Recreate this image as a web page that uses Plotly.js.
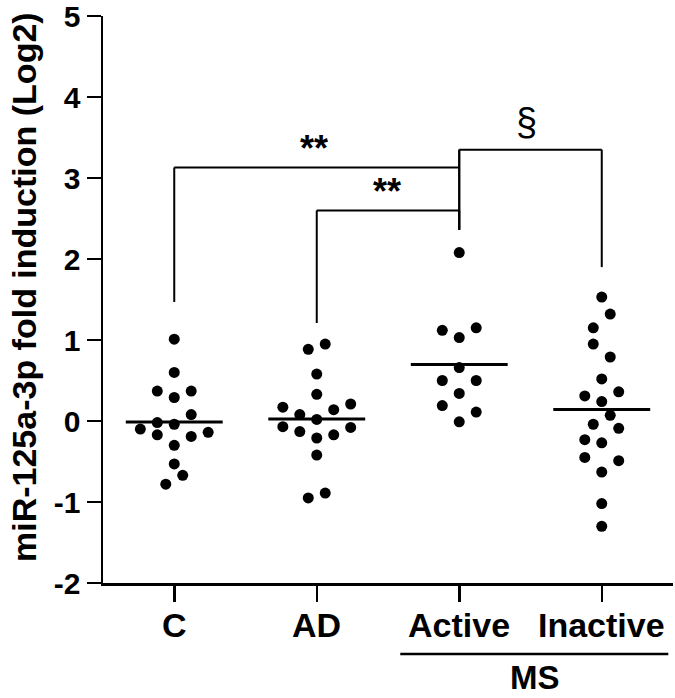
<!DOCTYPE html>
<html>
<head>
<meta charset="utf-8">
<script src="https://cdn.plot.ly/plotly-3.0.1.min.js"></script>
<style>html,body{margin:0;padding:0;background:#fff;}#chart{width:675px;height:698px;}</style>
</head>
<body>
<div id="chart"></div>
<script>
// Categories and tick labels
const categories = ["C", "AD", "Active", "Inactive"];
const groupLabel = "MS";
const yTickVals = [-2, -1, 0, 1, 2, 3, 4, 5];

// Values (log2 fold induction)
const valuesC = [1.01, 0.60, 0.37, 0.29, 0.37, 0.08, -0.02, -0.04, -0.10, -0.17, -0.19, -0.14, -0.30, -0.53, -0.67, -0.78];
const valuesAD = [0.885, 0.95, 0.58, 0.33, 0.17, 0.08, 0.14, 0.21, 0.02, -0.07, -0.13, -0.08, -0.21, -0.17, -0.42, -0.95, -0.89];
const valuesActive = [2.08, 1.12, 1.15, 1.03, 0.66, 0.50, 0.50, 0.34, 0.19, 0.11, -0.01];
const valuesInactive = [1.53, 1.32, 1.15, 0.95, 0.79, 0.52, 0.31, 0.36, 0.24, 0.07, -0.04, -0.09, -0.23, -0.27, -0.45, -0.49, -0.63, -1.02, -1.30];

// Scatter-dot column slots (horizontal spreading of dots, in dot slots)
const slotsC = [0, 0, -1, 0, 1, 1, -1, 0, -2, -1, 1, 2, 0, 0, 0.5, -0.5];
const slotsAD = [-0.5, 0.5, 0, 0, -2, -1, 1, 2, 0, -2, -1, 2, 0, 1, 0, -0.5, 0.5];
const slotsActive = [0, -1, 1, 0, 0, -1, 1, 0, -1, 1, 0];
const slotsInactive = [0, 0.5, -0.5, -0.5, 0.5, 0, -1, 1, 0, 0.5, -0.5, 1, -1, 0, -1, 1, 0, 0, 0];

// Significance brackets
const brackets = [
  {from: 0, to: 2, h: 3.13, leftEnd: 1.47, rightEnd: null, label: "<b>**</b>", lx: 0.98, ly: 3.36, size: 36},
  {from: 1, to: 2, h: 2.60, leftEnd: 1.21, rightEnd: 2.36, label: "<b>**</b>", lx: 1.495, ly: 2.83, size: 36},
  {from: 2, to: 3, h: 3.35, leftEnd: 2.36, rightEnd: 1.90, label: "§", lx: 2.47, ly: 3.69, size: 38}
];

const FONT = 'Arial, Liberation Sans, sans-serif';
const groups = [valuesC, valuesAD, valuesActive, valuesInactive];
const slots = [slotsC, slotsAD, slotsActive, slotsInactive];
const slotWidth = 0.119;
const meanHalf = 0.34;

const traces = [];
groups.forEach((vals, gi) => {
  traces.push({
    type: 'scatter', mode: 'markers',
    x: vals.map((v, i) => gi + slots[gi][i] * slotWidth),
    y: vals,
    marker: {color: '#000', size: 11, line: {width: 0}},
    showlegend: false, hoverinfo: 'y', cliponaxis: false
  });
  const mean = vals.reduce((a, b) => a + b, 0) / vals.length;
  traces.push({
    type: 'scatter', mode: 'lines',
    x: [gi - meanHalf, gi + meanHalf], y: [mean, mean],
    line: {color: '#000', width: 3}, showlegend: false, hoverinfo: 'skip'
  });
});

const shapes = [];
const annotations = [];
const lineStyle = {color: '#000', width: 2};
brackets.forEach(b => {
  shapes.push({type: 'line', xref: 'x', yref: 'y', x0: b.from, x1: b.to, y0: b.h, y1: b.h, line: lineStyle});
  shapes.push({type: 'line', xref: 'x', yref: 'y', x0: b.from, x1: b.from, y0: b.leftEnd, y1: b.h, line: lineStyle});
  if (b.rightEnd !== null) {
    shapes.push({type: 'line', xref: 'x', yref: 'y', x0: b.to, x1: b.to, y0: b.rightEnd, y1: b.h, line: lineStyle});
  }
  annotations.push({xref: 'x', yref: 'y', x: b.lx, y: b.ly, text: b.label, showarrow: false,
    font: {family: FONT, size: b.size, color: '#000'}, xanchor: 'center', yanchor: 'middle'});
});
shapes.push({type: 'line', xref: 'x', yref: 'y', x0: 2, x1: 2, y0: 2.36, y1: 3.35, line: lineStyle});

// Category labels
categories.forEach((c, i) => {
  annotations.push({xref: 'x', yref: 'paper', x: i, y: -0.0741, text: '<b>' + c + '</b>', showarrow: false,
    font: {family: FONT, size: 34, color: '#000'}, xanchor: 'center', yanchor: 'middle'});
});

// MS group underline and label
shapes.push({type: 'line', xref: 'x', yref: 'paper', x0: 1.586, x1: 3.467, y0: -0.1252, y1: -0.1252, line: {color: '#000', width: 2.5}});
annotations.push({xref: 'x', yref: 'paper', x: 2.53, y: -0.1675, text: '<b>' + groupLabel + '</b>', showarrow: false,
  font: {family: FONT, size: 33, color: '#000'}, xanchor: 'center', yanchor: 'middle'});

// Y title
annotations.push({xref: 'paper', yref: 'paper', x: -0.1386, y: 0.522, text: '<b>miR-125a-3p fold induction (Log2)</b>',
  showarrow: false, textangle: -90, xanchor: 'center', yanchor: 'middle',
  font: {family: FONT, size: 34, color: '#000'}});

const layout = {
  width: 675, height: 698,
  margin: {l: 103, r: 2, t: 16, b: 115},
  paper_bgcolor: '#fff', plot_bgcolor: '#fff',
  font: {family: FONT, color: '#000'},
  xaxis: {
    range: [-0.5, 3.5], tickvals: [0, 1, 2, 3], showticklabels: false,
    showgrid: false, zeroline: false, showline: true, linecolor: '#000', linewidth: 2.5,
    ticks: 'outside', ticklen: 16, tickwidth: 2.5, tickcolor: '#000'
  },
  yaxis: {
    range: [-2, 5], tickvals: yTickVals, ticktext: yTickVals.map(v => '<b>' + v + '</b>'),
    showgrid: false, zeroline: false, showline: true, linecolor: '#000', linewidth: 2.5,
    ticks: 'outside', ticklen: 14, tickwidth: 2.5, tickcolor: '#000',
    tickfont: {size: 30, family: FONT}, ticklabeloverflow: 'allow'
  },
  shapes: shapes, annotations: annotations, showlegend: false
};

Plotly.newPlot('chart', traces, layout, {displayModeBar: false, staticPlot: true});
</script>
</body>
</html>
